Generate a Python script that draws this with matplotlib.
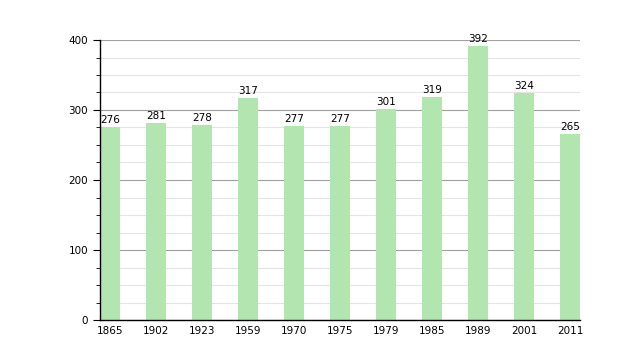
import matplotlib
matplotlib.use("Agg")
import matplotlib.pyplot as plt
from matplotlib.ticker import MultipleLocator

years = ["1865", "1902", "1923", "1959", "1970", "1975", "1979", "1985", "1989", "2001", "2011"]
population = [276, 281, 278, 317, 277, 277, 301, 319, 392, 324, 265]

fig = plt.figure(figsize=(6.2, 3.6), dpi=100)
ax = fig.add_axes([100/620, 40/360, 480/620, 280/360])

w = 20/46
half = w/2
xs = list(range(len(years)))
ax.bar(xs, population, width=w, color="#b2e5b0", zorder=2)
for x, v in zip(xs, population):
    ax.text(x, v + 3, str(v), ha="center", va="bottom", fontsize=7.5, zorder=3)

ax.set_xlim(-half, len(years) - 1 + half)
ax.set_ylim(0, 400)
ax.set_xticks(xs)
ax.set_xticklabels(years, fontsize=7.5)
ax.tick_params(axis="x", length=0, pad=4)
ax.yaxis.set_major_locator(MultipleLocator(100))
ax.yaxis.set_minor_locator(MultipleLocator(25))
ax.tick_params(axis="y", which="major", length=5, labelsize=7.5, direction="out")
ax.tick_params(axis="y", which="minor", length=3, direction="out")
ax.grid(axis="y", which="major", color="#a0a0a0", linewidth=0.8, zorder=0)
ax.grid(axis="y", which="minor", color="#e4e4e4", linewidth=0.8, zorder=0)
for s in ["top", "right"]:
    ax.spines[s].set_visible(False)
ax.spines["left"].set_linewidth(1.0)
ax.spines["bottom"].set_linewidth(1.0)

fig.savefig("out.png", dpi=100)
